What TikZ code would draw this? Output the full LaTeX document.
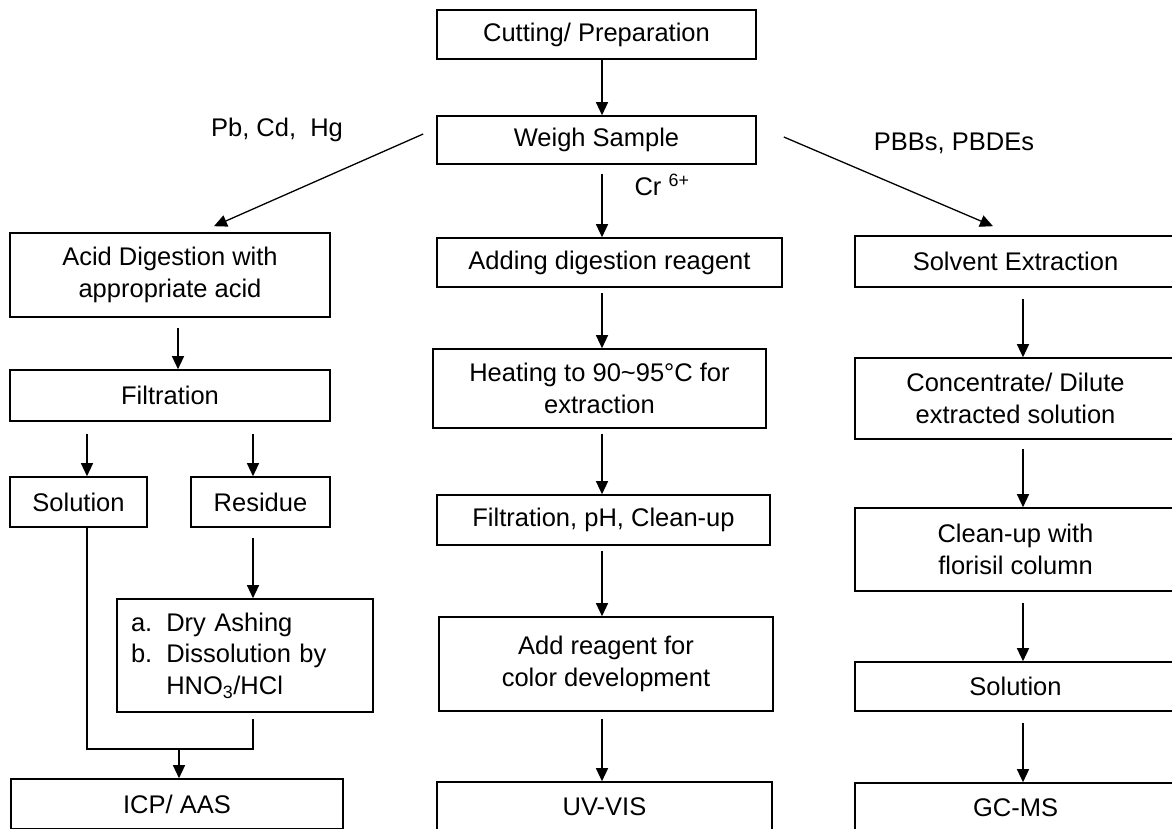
\documentclass[tikz,border=0pt]{standalone}
\usepackage{fontspec}
\setmainfont{Liberation Sans}
\usetikzlibrary{arrows.meta}

\begin{document}
\begin{tikzpicture}[x=1pt,y=-1pt,
  box/.style={draw,line width=1.6pt,inner sep=0pt,align=center},
  arr/.style={line width=1.3pt,-{Triangle[length=13pt,width=12pt]}},
  link/.style={line width=1.3pt},
  lbl/.style={inner sep=0pt}]
\fontsize{25.5}{31.5}\selectfont
\path[use as bounding box,clip] (0,0) rectangle (1172,829);

% column lines for the arrows
\coordinate (xl) at (178,0);
\coordinate (xa) at (87,0);
\coordinate (xb) at (253,0);
\coordinate (xm) at (602,0);
\coordinate (xr) at (1023,0);
\coordinate (jn) at (179,749);

% middle column
\node [box,minimum width=319pt,minimum height=49pt] (cut) at (596.5,34.5) {Cutting/ Preparation};
\node [box,minimum width=319pt,minimum height=48pt] (weigh) at (596.5,140) {Weigh Sample};
\node [box,minimum width=345pt,minimum height=49pt] (adddig) at (609.5,262.5) {Adding digestion reagent};
\node [box,minimum width=333pt,minimum height=79pt] (heat) at (599.5,388.5) {Heating to 90\textasciitilde95°C for\\extraction};
\node [box,minimum width=333pt,minimum height=50pt] (filtph) at (603.5,520) {Filtration, pH, Clean-up};
\node [box,minimum width=334pt,minimum height=94pt] (addreag) at (606,664) {Add reagent for\\color development};
\node [box,minimum width=335pt,minimum height=50pt] (uvvis) at (604.5,807) {UV-VIS};

% left column
\node [box,minimum width=320pt,minimum height=84pt] (acid) at (170,275) {Acid Digestion with\\appropriate acid};
\node [box,minimum width=320pt,minimum height=51pt] (filt) at (170,395.5) {Filtration};
\node [box,minimum width=137pt,minimum height=50pt] (soln) at (78.5,502) {Solution};
\node [box,minimum width=139pt,minimum height=50pt] (resid) at (260.5,502) {Residue};
\node [box,minimum height=113pt,text width=228pt,inner xsep=14pt,align=left] (dry) at (245,655.5)
  {a.\hspace{14pt}Dry Ashing\\b.\hspace{14pt}Dissolution by\\\phantom{b.\hspace{14pt}}HNO\textsubscript{3}/HCl};
\node [box,minimum width=332pt,minimum height=50pt] (icp) at (177,804) {ICP/ AAS};

% right column
\node [box,minimum width=321pt,minimum height=51pt] (solv) at (1015.5,261.5) {Solvent Extraction};
\node [box,minimum width=321pt,minimum height=81pt] (conc) at (1015.5,398.5) {Concentrate/ Dilute\\extracted solution};
\node [box,minimum width=321pt,minimum height=83pt] (clean) at (1015.5,549.5) {Clean-up with\\florisil column};
\node [box,minimum width=321pt,minimum height=49pt] (soln2) at (1015.5,686.5) {Solution};
\node [box,minimum width=321pt,minimum height=50pt] (gcms) at (1015.5,808) {GC-MS};

% labels
\node [lbl] (pbcd) at (277,130) {Pb, Cd,\ \ Hg};
\node [lbl] (pbb) at (954,143) {PBBs, PBDEs};
\node [lbl] (cr) at (662,185) {Cr \textsuperscript{6+}};

% arrows
\draw [arr] (cut.south -| xm) -- (weigh.north -| xm);
\draw [arr] ([shift={(-13,-6)}]weigh.west) -- ([shift={(44,-6)}]acid.north);
\draw [arr] ([shift={(27,-3)}]weigh.east) -- ([shift={(-22.5,-9)}]solv.north);
\draw [arr,shorten <=9pt] (weigh.south -| xm) -- (adddig.north -| xm);
\draw [arr,shorten <=5pt] (adddig.south -| xm) -- (heat.north -| xm);
\draw [arr,shorten <=5pt] (heat.south -| xm) -- (filtph.north -| xm);
\draw [arr,shorten <=5pt] (filtph.south -| xm) -- (addreag.north -| xm);
\draw [arr,shorten <=7pt] (addreag.south -| xm) -- (uvvis.north -| xm);

\draw [arr,shorten <=10pt] (acid.south -| xl) -- (filt.north -| xl);
\draw [arr,shorten <=12pt] (filt.south -| xa) -- (soln.north -| xa);
\draw [arr,shorten <=12pt] (filt.south -| xb) -- (resid.north -| xb);
\draw [arr,shorten <=10pt] (resid.south -| xb) -- (dry.north -| xb);
\draw [link,shorten >=6pt] (soln.south -| xa) -- (xa |- jn) -- (xb |- jn) -- (dry.south -| xb);
\draw [arr] (jn) -- (icp.north -| jn);

\draw [arr,shorten <=11pt] (solv.south -| xr) -- (conc.north -| xr);
\draw [arr,shorten <=9pt] (conc.south -| xr) -- (clean.north -| xr);
\draw [arr,shorten <=11pt] (clean.south -| xr) -- (soln2.north -| xr);
\draw [arr,shorten <=11pt] (soln2.south -| xr) -- (gcms.north -| xr);
\end{tikzpicture}
\end{document}
